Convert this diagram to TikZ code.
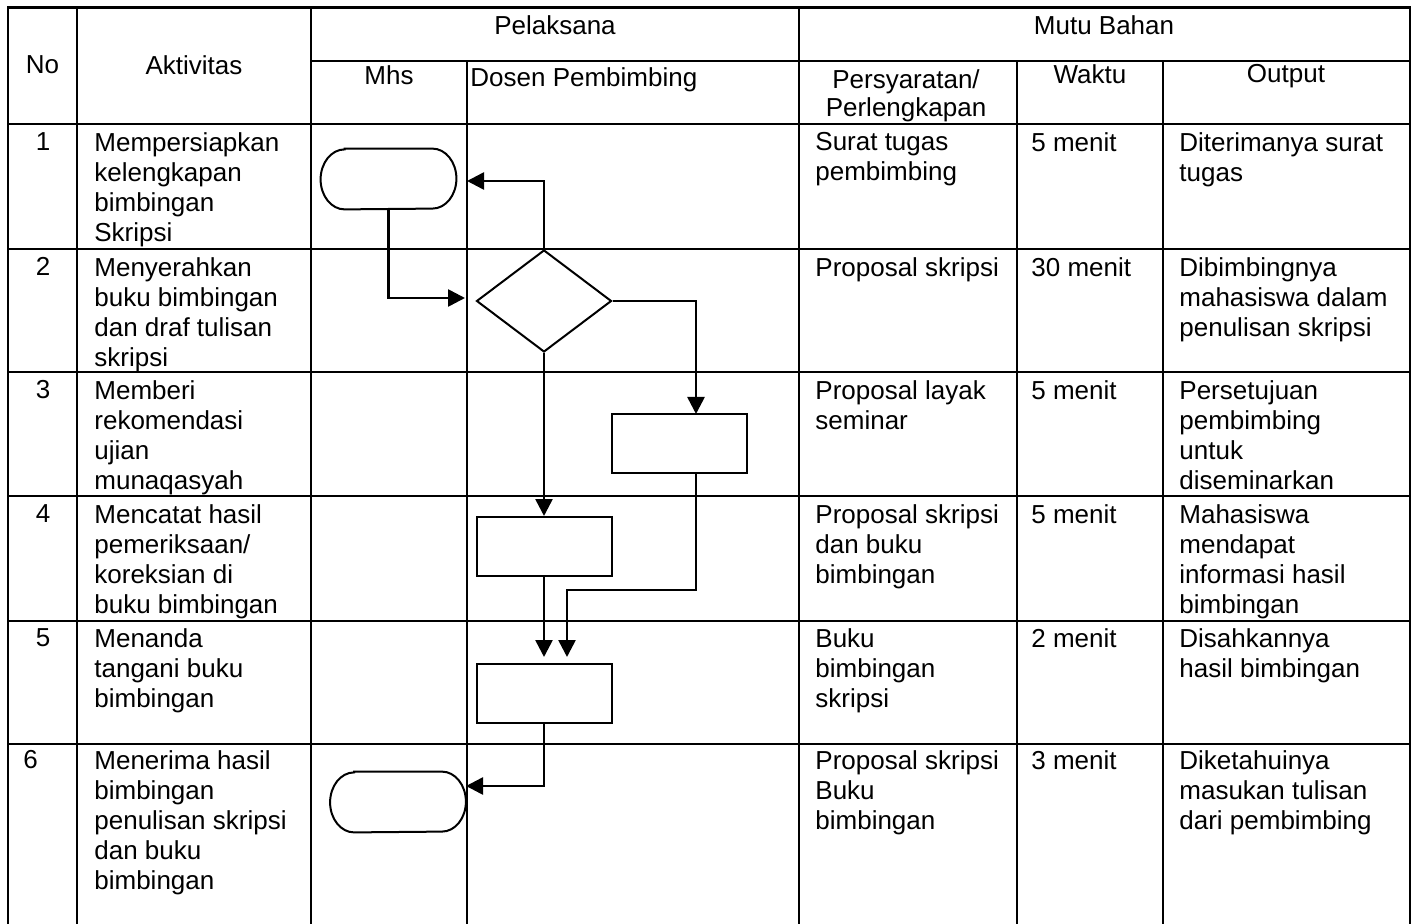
\documentclass[tikz,border=0pt]{standalone}
\usepackage{fontspec}
\setmainfont{Liberation Sans}
\usetikzlibrary{shapes.geometric,arrows.meta}
\newcommand\drawterm[1]{%
  \draw[line width=1pt] ([xshift=12pt]#1.north west) -- ([xshift=-12pt]#1.north east)
    arc[start angle=90,end angle=-90,x radius=12pt,y radius=15pt]
    -- ([xshift=12pt]#1.south west)
    arc[start angle=270,end angle=90,x radius=12pt,y radius=15pt] -- cycle;}
\begin{document}
\begin{tikzpicture}[x=0.5pt,y=-0.5pt,
  grid/.style={line width=1.4pt},
  txt/.style={anchor=north west,inner sep=0pt,align=left,font=\fontsize{13}{15}\selectfont},
  num/.style={anchor=north,inner sep=0pt,font=\fontsize{13}{15}\selectfont},
  hdr/.style={inner sep=0pt,align=center,font=\fontsize{13}{15}\selectfont},
  box/.style={draw,line width=1pt,minimum width=67.5pt,minimum height=29.5pt,inner sep=0pt},
  term/.style={minimum width=67.5pt,minimum height=30pt,inner sep=0pt},
  dec/.style={draw,diamond,line width=1pt,minimum width=67.5pt,minimum height=51pt,inner sep=0pt},
  flow/.style={line width=1.3pt,-{Triangle[length=8.5pt,width=8.5pt]}}]

\useasboundingbox (0,0) rectangle (1416,924);

% table grid
\draw[grid] (8,924) -- (8,7.5) -- (1410,7.5) -- (1410,924);
\draw[grid] (77,7.5) -- (77,924);
\draw[grid] (311,7.5) -- (311,924);
\draw[grid] (799,7.5) -- (799,924);
\draw[grid] (311,61) -- (1410,61);
\draw[grid] (467,61) -- (467,924);
\draw[grid] (1017,61) -- (1017,924);
\draw[grid] (1163,61) -- (1163,924);
\foreach \yy in {124,249,372,496,621,744}
  \draw[grid] (8,\yy) -- (1410,\yy);

% headers
\node[hdr] (hNo) at (42.5,65) {No};
\node[hdr] (hAkt) at (194,65) {Aktivitas};
\node[hdr] (hPel) at (555,25) {Pelaksana};
\node[hdr] (hMutu) at (1104,25) {Mutu Bahan};
\node[hdr,anchor=north] (hMhs) at (389,65) {Mhs};
\node[txt] (hDos) at (470,67) {Dosen Pembimbing};
\node[hdr,anchor=north,font=\fontsize{13}{14}\selectfont] (hPers) at (906,69) {Persyaratan/\\Perlengkapan};
\node[hdr,anchor=north] (hWak) at (1090,64) {Waktu};
\node[hdr,anchor=north] (hOut) at (1286,64) {Output};

% row 1
\node[num] (n1) at (43,132) {1};
\node[txt] (a1t) at (94,132) {Mempersiapkan\\kelengkapan\\bimbingan\\Skripsi};
\node[txt] (p1) at (815,132) {Surat tugas\\pembimbing};
\node[txt] (w1) at (1031,132) {5 menit};
\node[txt] (o1) at (1179,132) {Diterimanya surat\\tugas};
% row 2
\node[num] (n2) at (43,257) {2};
\node[txt] (a2t) at (94,257) {Menyerahkan\\buku bimbingan\\dan draf tulisan\\skripsi};
\node[txt] (p2) at (815,257) {Proposal skripsi};
\node[txt] (w2) at (1031,257) {30 menit};
\node[txt] (o2) at (1179,257) {Dibimbingnya\\mahasiswa dalam\\penulisan skripsi};
% row 3
\node[num] (n3) at (43,380) {3};
\node[txt] (a3t) at (94,380) {Memberi\\rekomendasi\\ujian\\munaqasyah};
\node[txt] (p3) at (815,380) {Proposal layak\\seminar};
\node[txt] (w3) at (1031,380) {5 menit};
\node[txt] (o3) at (1179,380) {Persetujuan\\pembimbing\\untuk\\diseminarkan};
% row 4
\node[num] (n4) at (43,504) {4};
\node[txt] (a4t) at (94,504) {Mencatat hasil\\pemeriksaan/\\koreksian di\\buku bimbingan};
\node[txt] (p4) at (815,504) {Proposal skripsi\\dan buku\\bimbingan};
\node[txt] (w4) at (1031,504) {5 menit};
\node[txt] (o4) at (1179,504) {Mahasiswa\\mendapat\\informasi hasil\\bimbingan};
% row 5
\node[num] (n5) at (43,628) {5};
\node[txt] (a5t) at (94,628) {Menanda\\tangani buku\\bimbingan};
\node[txt] (p5) at (815,628) {Buku\\bimbingan\\skripsi};
\node[txt] (w5) at (1031,628) {2 menit};
\node[txt] (o5) at (1179,628) {Disahkannya\\hasil bimbingan};
% row 6
\node[txt] (n6) at (23,750) {6};
\node[txt] (a6t) at (94,750) {Menerima hasil\\bimbingan\\penulisan skripsi\\dan buku\\bimbingan};
\node[txt] (p6) at (815,750) {Proposal skripsi\\Buku\\bimbingan};
\node[txt] (w6) at (1031,750) {3 menit};
\node[txt] (o6) at (1179,750) {Diketahuinya\\masukan tulisan\\dari pembimbing};

% flow shapes
\node[term] (t1) at (388.5,179) {};
\drawterm{t1}
\node[dec] (d) at (544,301) {};
\node[box] (rA) at (679,443.5) {};
\node[box] (rB) at (544,546.5) {};
\node[box] (rC) at (544,693) {};
\node[term] (t2) at (398,802) {};
\drawterm{t2}

% connector end points
\coordinate (e1) at (467,181);
\coordinate (e2) at (465,298);
\coordinate (e3) at (696,414);
\coordinate (b3) at (rA.south -| e3);
\coordinate (e5) at (567,657);
\coordinate (e6) at (544,657);
\coordinate (e7) at (466,786);

% connectors
\draw[flow] (d.north) |- (e1);
\draw[flow] (t1.south) |- (e2);
\draw[flow] (d.east) -| (e3);
\draw[flow] (d.south) -- (rB.north);
\draw[flow] (b3) -- ++(0,116) -| (e5);
\draw[flow] (rB.south) -- (e6);
\draw[flow] (rC.south) |- (e7);
\end{tikzpicture}
\end{document}
